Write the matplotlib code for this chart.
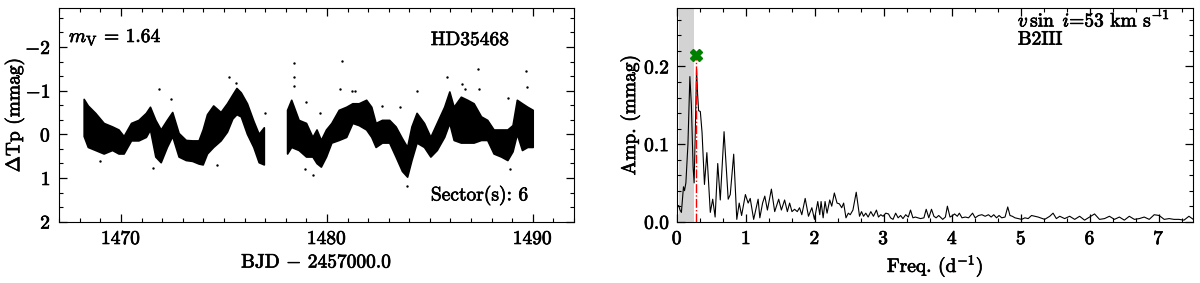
import matplotlib
matplotlib.use("Agg")
import matplotlib.pyplot as plt
import matplotlib.patheffects as pe
from matplotlib.text import Text
from matplotlib.ticker import MultipleLocator, FormatStrFormatter
import numpy as np

# --- Lichtkurve: Zeit, obere / untere Kante des Punktbandes ---
LC_TIME = [1468.21, 1468.41, 1468.77, 1469.18, 1469.59, 1469.90, 1470.15, 1470.51,
           1470.87, 1471.23, 1471.43, 1471.69, 1471.95, 1472.25, 1472.51, 1472.82,
           1473.17, 1473.48, 1473.79, 1473.99, 1474.20, 1474.50, 1474.86, 1475.17,
           1475.43, 1475.63, 1475.84, 1476.14, 1476.45, 1476.71, 1476.96,
           np.nan,
           1478.09, 1478.29, 1478.65, 1479.01, 1479.32, 1479.52, 1479.73, 1479.98,
           1480.24, 1480.60, 1480.96, 1481.26, 1481.57, 1481.93, 1482.18, 1482.39,
           1482.70, 1483.05, 1483.36, 1483.67, 1483.92, 1484.13, 1484.38, 1484.74,
           1485.05, 1485.36, 1485.72, 1485.97, 1486.18, 1486.53, 1486.84, 1487.15,
           1487.51, 1487.81, 1488.12, 1488.48, 1488.79, 1489.04, 1489.25, 1489.50,
           1489.76, 1490.02]
LC_TOP = [-0.80, -0.65, -0.48, -0.25, -0.17, -0.10, 0.05, -0.25,
          -0.32, -0.48, -0.62, -0.32, -0.10, -0.32, -0.50, -0.02,
          0.14, 0.15, 0.15, -0.10, -0.45, -0.65, -0.50, -0.70,
          -0.90, -1.05, -0.95, -0.70, -0.30, 0.00, -0.15,
          np.nan,
          -0.55, -0.78, -0.32, -0.25, 0.07, -0.10, 0.14, -0.10,
          -0.25, -0.55, -0.62, -0.70, -0.70, -0.78, -0.62, -0.25,
          -0.32, -0.32, -0.17, 0.10, 0.30, -0.17, -0.48, -0.25,
          0.07, -0.25, -0.62, -0.97, -0.62, -0.85, -0.78, -0.70,
          -0.40, -0.32, -0.10, -0.10, -0.10, -0.20, -0.78, -0.70,
          -0.62, -0.55]
LC_BOT = [0.05, 0.30, 0.37, 0.45, 0.37, 0.45, 0.45, 0.15,
          0.15, 0.07, -0.10, 0.52, 0.65, 0.30, 0.05, 0.52,
          0.60, 0.62, 0.68, 0.70, 0.45, 0.30, 0.15, -0.05,
          -0.35, -0.45, -0.40, 0.00, 0.30, 0.65, 0.70,
          np.nan,
          0.45, 0.30, 0.37, 0.52, 0.52, 0.67, 0.75, 0.52,
          0.20, 0.14, 0.07, -0.25, -0.20, -0.10, 0.07, 0.30,
          0.20, 0.20, 0.52, 0.85, 0.98, 0.60, 0.20, 0.30,
          0.52, 0.37, 0.07, -0.25, 0.14, 0.20, 0.20, 0.20,
          0.14, 0.14, 0.45, 0.52, 0.60, 0.40, 0.00, 0.37,
          0.30, 0.30]

# einzelne Ausreisser
OUT_TIME = [1471.84, 1472.43, 1471.55, 1475.25, 1475.59, 1477.00, 1474.66, 1478.41,
            1478.41, 1478.41, 1480.75, 1480.65, 1481.23, 1481.38, 1485.85, 1486.58,
            1486.73, 1487.36, 1487.41, 1484.39, 1489.69, 1489.74, 1488.82, 1478.99,
            1479.67, 1483.56, 1482.69, 1483.91, 1479.33, 1478.94, 1488.87, 1468.97]
OUT_MAG = [-1.03, -0.80, 0.78, -1.31, -1.17, -0.50, 0.71, -1.63,
           -1.31, -1.10, -1.68, -1.03, -1.00, -0.99, -1.31, -1.15,
           -1.03, -1.49, -1.03, -1.00, -1.45, -1.08, -0.83, -0.73,
           -0.48, -0.62, -0.66, 1.19, 0.92, 0.80, 0.80, 0.60]

# --- Amplitudenspektrum ---
FREQ = [0.00, 0.02, 0.04, 0.06, 0.09, 0.105, 0.125, 0.155, 0.183, 0.205, 0.23, 0.245,
        0.265, 0.28, 0.295, 0.31, 0.335, 0.36, 0.395, 0.43, 0.455, 0.48, 0.515, 0.55,
        0.588, 0.625, 0.68, 0.74, 0.77, 0.82, 0.865, 0.90, 0.935, 0.99, 1.03, 1.06,
        1.11, 1.175, 1.20, 1.24, 1.272, 1.31, 1.368, 1.416, 1.474, 1.513, 1.56, 1.60,
        1.633, 1.667, 1.705, 1.744, 1.777, 1.81, 1.859, 1.907, 1.956, 1.994, 2.042, 2.071,
        2.09, 2.12, 2.148, 2.177, 2.216, 2.245, 2.283, 2.322, 2.356, 2.39, 2.418, 2.452,
        2.486, 2.514, 2.553, 2.601, 2.649, 2.678, 2.707, 2.74, 2.774, 2.813, 2.851, 2.895,
        2.924, 2.958, 2.991, 3.03, 3.07, 3.10, 3.136, 3.174, 3.21, 3.246, 3.28, 3.32,
        3.358, 3.39, 3.425, 3.46, 3.50, 3.536, 3.585, 3.618, 3.656, 3.695, 3.73, 3.762,
        3.80, 3.858, 3.897, 3.926, 3.964, 4.003, 4.03, 4.07, 4.10, 4.138, 4.186, 4.234,
        4.292, 4.33, 4.379, 4.427, 4.475, 4.523, 4.562, 4.60, 4.64, 4.677, 4.716, 4.764,
        4.803, 4.836, 4.87, 4.908, 4.956, 5.005, 5.053, 5.10, 5.149, 5.197, 5.245, 5.34,
        5.414, 5.462, 5.51, 5.559, 5.63, 5.703, 5.776, 5.848, 5.92, 5.992, 6.065, 6.137,
        6.21, 6.281, 6.354, 6.426, 6.498, 6.57, 6.643, 6.715, 6.787, 6.86, 6.932, 7.004,
        7.077, 7.15, 7.22, 7.292, 7.365, 7.437, 7.50]
AMP = [0.019, 0.021, 0.015, 0.012, 0.045, 0.040, 0.050, 0.100, 0.187, 0.150, 0.070, 0.050,
       0.130, 0.197, 0.165, 0.143, 0.142, 0.115, 0.048, 0.089, 0.050, 0.012, 0.029, 0.006,
       0.075, 0.028, 0.116, 0.029, 0.035, 0.087, 0.003, 0.024, 0.008, 0.035, 0.024, 0.030,
       0.003, 0.029, 0.005, 0.024, 0.033, 0.015, 0.042, 0.013, 0.029, 0.015, 0.028, 0.013,
       0.024, 0.013, 0.016, 0.013, 0.018, 0.009, 0.030, 0.007, 0.018, 0.003, 0.026, 0.009,
       0.026, 0.005, 0.026, 0.011, 0.028, 0.020, 0.037, 0.024, 0.023, 0.018, 0.024, 0.005,
       0.011, 0.009, 0.015, 0.038, 0.007, 0.013, 0.007, 0.011, 0.006, 0.013, 0.007, 0.015,
       0.006, 0.009, 0.007, 0.011, 0.010, 0.005, 0.003, 0.011, 0.005, 0.008, 0.004, 0.009,
       0.006, 0.015, 0.005, 0.006, 0.005, 0.004, 0.005, 0.016, 0.005, 0.016, 0.007, 0.005,
       0.008, 0.003, 0.006, 0.020, 0.006, 0.008, 0.010, 0.007, 0.011, 0.005, 0.006, 0.005,
       0.011, 0.005, 0.008, 0.009, 0.007, 0.009, 0.006, 0.009, 0.005, 0.008, 0.005, 0.006,
       0.019, 0.008, 0.007, 0.005, 0.004, 0.003, 0.005, 0.004, 0.008, 0.007, 0.006, 0.003,
       0.007, 0.011, 0.004, 0.007, 0.004, 0.007, 0.003, 0.007, 0.002, 0.006, 0.010, 0.003,
       0.004, 0.007, 0.003, 0.006, 0.002, 0.007, 0.003, 0.004, 0.006, 0.003, 0.009, 0.008,
       0.003, 0.004, 0.003, 0.003, 0.002, 0.007, 0.003]

PEAK_FREQ = 0.276
PEAK_MARK = 0.2147
SPAN_LO, SPAN_HI = 0.03, 0.25

plt.rcParams["font.family"] = "serif"
plt.rcParams["font.serif"] = ["cmr10"]
plt.rcParams["mathtext.fontset"] = "cm"
plt.rcParams["axes.formatter.use_mathtext"] = True
plt.rcParams["font.size"] = 14

FS = 14


def style_ticks(ax):
    ax.tick_params(which="both", direction="in", top=True, right=True, labelsize=FS)
    ax.tick_params(which="major", length=6, width=0.9, pad=6)
    ax.tick_params(which="minor", length=3, width=0.8)


fig = plt.figure(figsize=(12, 2.83), dpi=100)

# --- linkes Panel: Lichtkurve ---
ax1 = fig.add_axes([0.0494, 0.2166, 0.4289, 0.7541])
t = np.array(LC_TIME)
ax1.fill_between(t, LC_TOP, LC_BOT, color="black", linewidth=1.2, edgecolor="black")
ax1.scatter(OUT_TIME, OUT_MAG, s=3, color="black", linewidths=0)
ax1.set_xlim(1467, 1492)
ax1.set_ylim(2, -2.886)
ax1.xaxis.set_major_locator(MultipleLocator(10))
ax1.xaxis.set_minor_locator(MultipleLocator(1))
ax1.yaxis.set_major_locator(MultipleLocator(1))
ax1.yaxis.set_minor_locator(MultipleLocator(1 / 3))
style_ticks(ax1)
ax1.set_xlabel(r"BJD $-$ 2457000.0", fontsize=FS)
ax1.set_ylabel(r"$\Delta$Tp (mmag)", fontsize=FS)
ax1.yaxis.set_label_coords(-0.064, 0.5)
ax1.text(0.019, 0.842, r"$m_{\rm V}$ = 1.64", transform=ax1.transAxes, fontsize=FS)
ax1.text(0.722, 0.828, "HD35468", transform=ax1.transAxes, fontsize=FS)
ax1.text(0.722, 0.10, "Sector(s): 6", transform=ax1.transAxes, fontsize=FS)

# --- rechtes Panel: Amplitudenspektrum ---
ax2 = fig.add_axes([0.5644, 0.2166, 0.4300, 0.7541])
ax2.axvspan(SPAN_LO, SPAN_HI, color="lightgray", linewidth=0)
ax2.plot(FREQ, AMP, color="black", linewidth=0.8)
ax2.vlines(PEAK_FREQ, 0, PEAK_MARK, color="red", linestyle="-.", linewidth=1.0)
ax2.plot([PEAK_FREQ], [PEAK_MARK], marker="X", markersize=8, color="green",
         linestyle="none")
ax2.set_xlim(0, 7.5)
ax2.set_ylim(0, 0.275)
ax2.xaxis.set_major_locator(MultipleLocator(1))
ax2.xaxis.set_minor_locator(MultipleLocator(1 / 3))
ax2.yaxis.set_major_locator(MultipleLocator(0.1))
ax2.yaxis.set_minor_locator(MultipleLocator(0.02))
ax2.yaxis.set_major_formatter(FormatStrFormatter("%.1f"))
style_ticks(ax2)
ax2.set_xlabel(r"Freq. (d$^{-1}$)", fontsize=FS)
ax2.set_ylabel("Amp. (mmag)", fontsize=FS)
ax2.yaxis.set_label_coords(-0.072, 0.5)
ax2.text(0.66, 0.915, r"$v\,\sin\ i$=53 km s$^{-1}$", transform=ax2.transAxes, fontsize=FS)
ax2.text(0.66, 0.83, "B2III", transform=ax2.transAxes, fontsize=FS)

# Schrift etwas kraeftiger wie im Original
fig.canvas.draw()
for txt in fig.findobj(Text):
    txt.set_path_effects([pe.withStroke(linewidth=0.5, foreground="black")])

fig.savefig("out.png", dpi=100)
plt.close(fig)
